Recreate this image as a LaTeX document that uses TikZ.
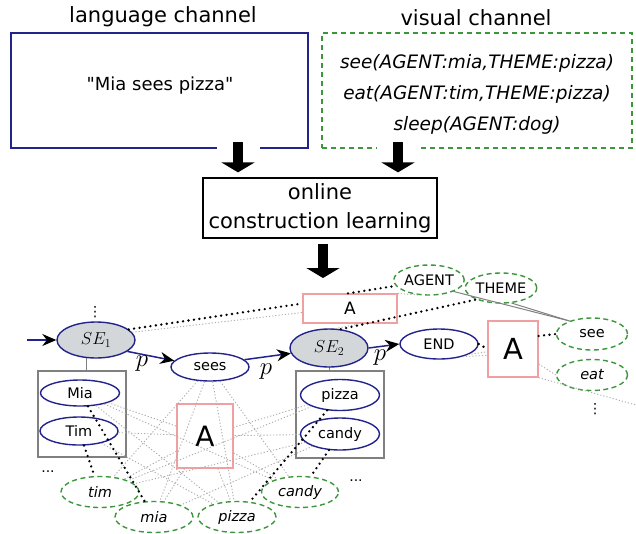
\documentclass[tikz,border=0pt]{standalone}
\usepackage{fontspec}
\setmainfont{DejaVu Sans}
\newfontfamily\straightquotes{DejaVu Sans}[Ligatures=TeXOff]
\usetikzlibrary{shapes.geometric,arrows.meta,backgrounds}
\definecolor{navy}{RGB}{35,35,140}
\definecolor{dgreen}{RGB}{60,150,60}
\definecolor{pinkline}{RGB}{240,160,160}
\definecolor{sefill}{RGB}{211,215,217}
\begin{document}
\begin{tikzpicture}[x=1pt,y=-1pt,
  every node/.style={inner sep=0pt},
  lnode/.style={ellipse, draw=navy, line width=1.4pt, minimum width=78pt,
    minimum height=28pt, font=\fontsize{14.5}{16}\selectfont},
  senode/.style={lnode, fill=sefill, minimum height=36pt, font=\fontsize{18}{20}\selectfont},
  vnode/.style={ellipse, draw=dgreen, line width=1.4pt, dash pattern=on 5pt off 3.5pt,
    minimum width=78pt, minimum height=31pt, font=\fontsize{14.5}{16}\selectfont\itshape},
  vrole/.style={vnode, font=\fontsize{14.5}{16}\selectfont},
  abox/.style={rectangle, draw=pinkline, line width=1.2pt},
  gbox/.style={rectangle, draw=gray, line width=1.5pt},
  seq/.style={draw=navy, line width=1.5pt, -{Stealth[length=14pt,width=12pt,black]}},
  bind/.style={line width=2.6pt, dash pattern=on 0pt off 5.5pt, line cap=round},
  rel/.style={draw=gray!65, line width=0.9pt, dash pattern=on 1.2pt off 2pt},
  link/.style={draw=gray, line width=1pt},
  plabel/.style={font=\fontsize{23}{24}\selectfont},
  ellip/.style={font=\fontsize{14}{16}\selectfont},
  bigarrow/.style={line width=10pt, -{Triangle[length=10pt,width=33pt]},
    preaction={draw=white, line width=43pt, arrows=-}},
  head/.style={font=\fontsize{21}{24}\selectfont},
]
\useasboundingbox (0,0) rectangle (636,533);

% input channels
\node[head] (langhead) at (163,17) {language channel};
\node[head] (vishead) at (476,18) {visual channel};
\node[draw=navy, line width=1.3pt, minimum width=297pt, minimum height=115pt] (lang) at (159.5,90.5) {};
\node[font=\fontsize{18}{22}\straightquotes] (langtext) at (160,86) {"Mia sees pizza"};
\node[draw=dgreen, line width=1.3pt, dash pattern=on 5pt off 4pt, minimum width=310pt,
  minimum height=115pt] (vis) at (477,90.5) {};
\node[align=center, font=\fontsize{18.5}{31}\selectfont\itshape]
  (vistext) at (477,94) {see(AGENT:mia,THEME:pizza)\\eat(AGENT:tim,THEME:pizza)\\sleep(AGENT:dog)};

% learner
\node[draw, line width=1.3pt, minimum width=234pt, minimum height=60pt, align=center,
  font=\fontsize{21}{29}\selectfont] (learn) at (320,208) {online\\construction learning};

\coordinate (a1) at (238,142);
\coordinate (a2) at (398,142);
\coordinate (a3) at (323,278);
\draw[bigarrow, shorten >=5pt] (a1) -- (a1 |- learn.north);
\draw[bigarrow, shorten >=5pt] (a2) -- (a2 |- learn.north);
\draw[bigarrow, shorten <=5pt] (learn.south -| a3) -- (a3);

% construction network
\node[senode] (SE1) at (96,340) {$SE_1$};
\node[lnode] (sees) at (210,367) {sees};
\node[senode, minimum height=38pt] (SE2) at (329,348) {$SE_2$};
\node[lnode, minimum height=30pt] (END) at (439,344) {END};

\node[gbox, minimum width=88pt, minimum height=86pt] (lbox) at (82,414) {};
\node[lnode, minimum width=79pt, minimum height=26pt] (Mia) at (80,393) {Mia};
\node[lnode] (Tim) at (79,431) {Tim};
\node[gbox, minimum width=88pt, minimum height=87pt] (rbox) at (340,414.5) {};
\node[lnode, minimum width=79pt, minimum height=31pt] (pizzab) at (340,395) {pizza};
\node[lnode, minimum width=79pt, minimum height=32pt] (candyb) at (340,434) {candy};

\node[abox, minimum width=94pt, minimum height=29pt, font=\fontsize{17}{20}\selectfont] (Atop) at (350,308.5) {A};
\node[abox, minimum width=50pt, minimum height=56pt, font=\fontsize{29}{32}\selectfont] (Abig) at (513,349) {A};
\node[abox, minimum width=56pt, minimum height=64pt, font=\fontsize{28}{32}\selectfont] (Amid) at (205,436) {A};

\node[vrole, minimum width=70pt, minimum height=30pt] (AGENT) at (429,280) {AGENT};
\node[vrole, minimum width=66pt, minimum height=30pt] (THEME) at (501,288) {THEME};
\node[vrole, minimum width=71pt, minimum height=32pt] (see) at (592,334) {see};
\node[vnode, minimum width=71pt] (eat) at (592,375) {eat};
\node[vnode] (tim) at (100,492) {tim};
\node[vnode] (mia) at (154,517) {mia};
\node[vnode] (pizzag) at (237,517) {pizza};
\node[vnode, minimum width=77pt] (candyg) at (300,492) {candy};

\node[ellip] (dotsA) at (95,312) {⋮};
\node[ellip] (dotsB) at (595,409) {⋮};
\node[ellip] (dotsC) at (48,472) {...};
\node[ellip] (dotsD) at (356,481) {...};

\coordinate (inL) at (27,340);
\coordinate (offR) at (636,405);

\begin{scope}[on background layer]
  \draw[link] ([xshift=4pt]lbox.north) -- ([xshift=4pt]lbox.north |- SE1.center);
  \draw[link] (SE2.center) -- (SE2.center |- rbox.north);
\end{scope}

% sequence
\draw[seq] (inL) -- (SE1.west);
\draw[seq] (SE1.-20) -- (sees.170);
\draw[seq] (sees.12) -- (SE2.188);
\draw[seq] (SE2.east) -- (END.west);
\node[plabel] (p1) at (142,364) {$p$};
\node[plabel] (p2) at (266,372) {$p$};
\node[plabel] (p3) at (380,358) {$p$};

% faint relations
\foreach \a/\b in {sees/tim, sees/mia, sees/pizzag, sees/candyg,
  Mia/Amid, Mia/candyg, Mia/pizzag, Tim/Amid, Tim/pizzag,
  pizzab/tim, pizzab/Amid, candyb/mia, candyb/tim, candyb/Amid,
  Amid/tim, Amid/mia, Amid/pizzag, Amid/candyg}
  \draw[rel] (\a) -- (\b);
\draw[rel] (SE1.12) -- ([yshift=-4pt]Atop.west);
\draw[rel] (Atop.north east) -- (AGENT.235);
\draw[rel] (SE2.72) -- ([xshift=10pt]Atop.south);
\draw[rel] (END.-20) -- (Abig.186);
\draw[rel] (END.-28) -- (Abig.194);
\draw[rel] ([yshift=-15pt]Abig.east) -- (eat.west);
\draw[rel] (Abig.south east) -- (offR);

% role links
\draw[link] (AGENT.-25) -- (see.150);
\draw[link] (THEME.-55) -- (see.150);

% bindings
\draw[bind] (SE1.18) -- ([yshift=5pt]Atop.west);
\draw[bind] ([xshift=-2pt]Atop.north) -- (AGENT.190);
\draw[bind] (SE2.58) -- (THEME.205);
\draw[bind] (END.east) -- (Abig.west);
\draw[bind] ([yshift=13pt]Abig.east) -- (see.west);
\draw[bind] (Mia) -- (mia);
\draw[bind] (Tim) -- (tim);
\draw[bind] (pizzab) -- (pizzag);
\draw[bind] (candyb) -- (candyg);
\end{tikzpicture}
\end{document}
